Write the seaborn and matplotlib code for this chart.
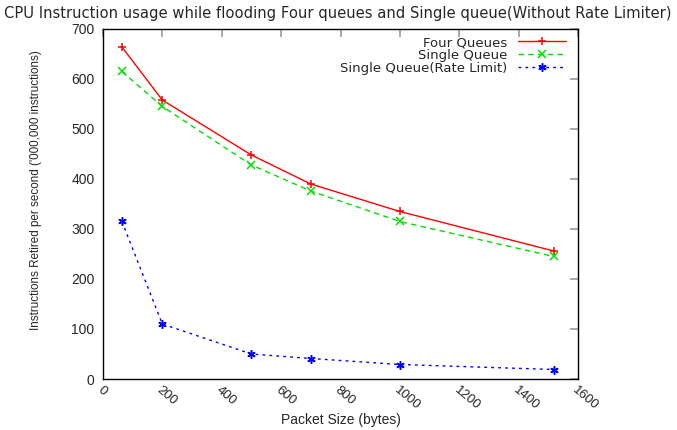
import pandas as pd
import matplotlib
matplotlib.use("Agg")
import matplotlib.pyplot as plt
import seaborn as sns

packet_size = [64, 200, 500, 700, 1000, 1518]
four_queues = [664, 558, 448, 390, 335, 256]
single_queue = [615, 545, 428, 376, 315, 245]
single_rate_limit = [315, 110, 50, 41, 29, 19]

sns.set_style("white")
plt.rcParams['font.family'] = ['Liberation Sans', 'DejaVu Sans']

fig = plt.figure(figsize=(6.77, 4.30), dpi=100)
ax = fig.add_axes([0.152, 0.1186, 0.702, 0.814])

series = [
    ("Four Queues", four_queues, "#ff0000", "-", "+"),
    ("Single Queue", single_queue, "#00e000", (0, (4, 3)), "x"),
    ("Single Queue(Rate Limit)", single_rate_limit, "#0000ff", (0, (2, 3)), (6, 2, 0)),
]
for label, vals, color, ls, mk in series:
    df = pd.DataFrame({"size": packet_size, "val": vals})
    sns.lineplot(data=df, x="size", y="val", ax=ax, color=color, linestyle=ls,
                 marker=mk, markersize=6, markeredgewidth=1.1,
                 markeredgecolor=color, markerfacecolor=color, linewidth=1.0,
                 label=label)

ax.set_xlim(0, 1600)
ax.set_ylim(0, 700)
ax.set_xticks(range(0, 1601, 200))
ax.set_yticks(range(0, 701, 100))
ax.tick_params(direction="in", length=6, color="#999999", width=1.2,
               top=True, right=True, labelsize=10, pad=6)
ax.tick_params(axis="x", labelsize=9.5, pad=4)
for lbl in ax.get_xticklabels():
    lbl.set_rotation(-40)
    lbl.set_ha("left")
    lbl.set_va("top")
    lbl.set_rotation_mode("anchor")
for s in ax.spines.values():
    s.set_color("black")
    s.set_linewidth(1.0)

ax.set_xlabel("Packet Size (bytes)", fontsize=10, labelpad=0)
ax.set_ylabel("Instructions Retired per second ('000,000 instructions)", fontsize=8.4)
ax.yaxis.set_label_coords(-0.128, 0.54)
fig.text(0.006, 0.985, "CPU Instruction usage while flooding Four queues and Single queue(Without Rate Limiter)",
         fontsize=10.6, ha="left", va="top", family="DejaVu Sans")

ax.legend(loc="upper right", frameon=False, markerfirst=False,
          prop={"family": "DejaVu Sans", "size": 9.5},
          handlelength=3.6, handletextpad=0.8, labelspacing=0.0,
          borderaxespad=0.0, bbox_to_anchor=(0.985, 0.995))

fig.savefig("out.png", dpi=100)
